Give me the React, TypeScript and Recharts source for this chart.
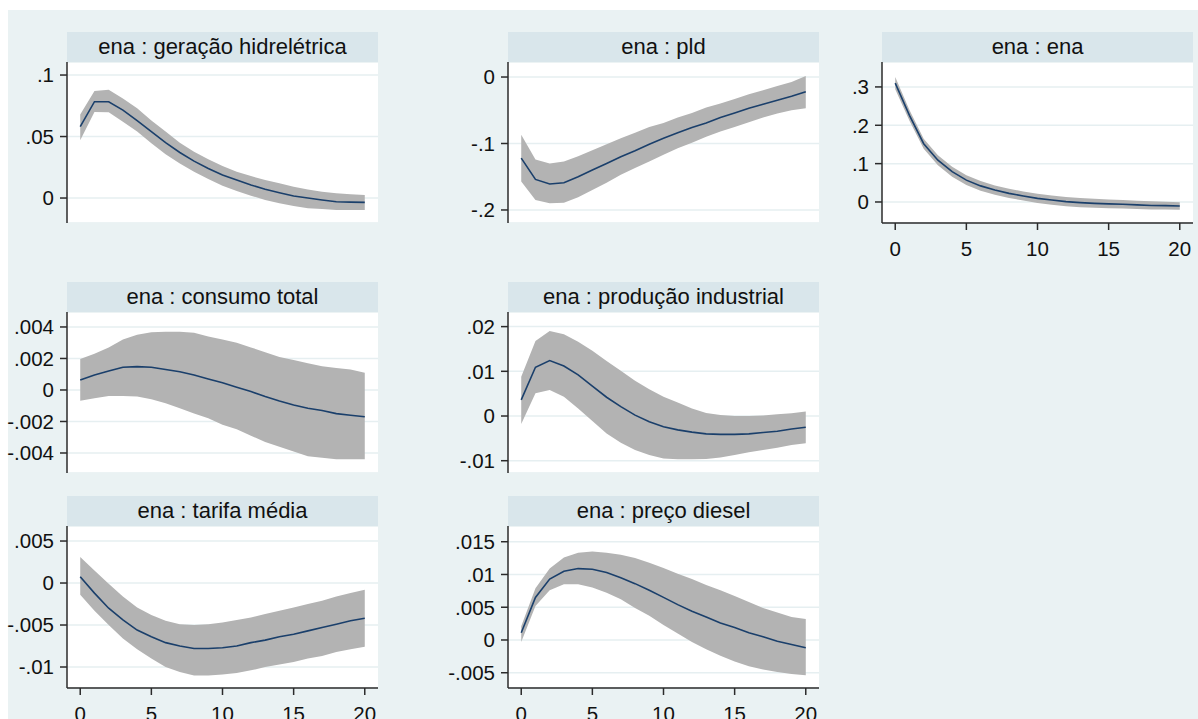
import React from 'react';
import { ComposedChart, Area, Line, XAxis, YAxis, CartesianGrid } from 'recharts';

// ---------- data ----------
const horizons = [0, 1, 2, 3, 4, 5, 6, 7, 8, 9, 10, 11, 12, 13, 14, 15, 16, 17, 18, 19, 20];
const xTicks = [0, 5, 10, 15, 20];

const geracaoIrf = [0.058, 0.0783, 0.0783, 0.0715, 0.063, 0.054, 0.045, 0.037, 0.030, 0.024, 0.0187, 0.0146, 0.0106, 0.0071, 0.0043, 0.0016, 0.0, -0.0016, -0.003, -0.0033, -0.0035];
const geracaoLo = [0.047, 0.070, 0.0697, 0.062, 0.054, 0.0445, 0.0355, 0.028, 0.0214, 0.0155, 0.010, 0.0057, 0.0019, -0.0016, -0.0043, -0.0065, -0.0084, -0.009, -0.0097, -0.0097, -0.0098];
const geracaoHi = [0.068, 0.087, 0.088, 0.081, 0.073, 0.063, 0.054, 0.045, 0.0377, 0.0315, 0.026, 0.0214, 0.0179, 0.0146, 0.012, 0.0092, 0.007, 0.0052, 0.0038, 0.003, 0.0024];

const pldIrf = [-0.122, -0.154, -0.161, -0.159, -0.150, -0.140, -0.130, -0.120, -0.111, -0.101, -0.092, -0.084, -0.076, -0.069, -0.061, -0.054, -0.047, -0.041, -0.035, -0.029, -0.022];
const pldLo = [-0.157, -0.185, -0.190, -0.189, -0.181, -0.170, -0.159, -0.147, -0.137, -0.127, -0.117, -0.107, -0.099, -0.090, -0.082, -0.075, -0.068, -0.061, -0.055, -0.050, -0.047];
const pldHi = [-0.087, -0.124, -0.130, -0.127, -0.119, -0.110, -0.101, -0.092, -0.084, -0.075, -0.069, -0.061, -0.054, -0.046, -0.040, -0.033, -0.026, -0.020, -0.0136, -0.0073, 0.0015];

const enaIrf = [0.310, 0.226, 0.152, 0.109, 0.079, 0.057, 0.042, 0.031, 0.0225, 0.0156, 0.0095, 0.005, 0.0009, -0.0017, -0.0035, -0.005, -0.006, -0.0075, -0.009, -0.0095, -0.0104];
const enaLo = [0.294, 0.212, 0.139, 0.096, 0.066, 0.044, 0.029, 0.019, 0.0105, 0.0036, -0.0025, -0.007, -0.0111, -0.0137, -0.0153, -0.0165, -0.0172, -0.0184, -0.0196, -0.0198, -0.0204];
const enaHi = [0.326, 0.240, 0.165, 0.122, 0.092, 0.070, 0.055, 0.043, 0.0345, 0.0276, 0.0215, 0.017, 0.0129, 0.0103, 0.0083, 0.0065, 0.0052, 0.0034, 0.0016, 0.0008, -0.0004];

const consumoIrf = [0.00063, 0.00095, 0.0012, 0.00144, 0.00148, 0.00144, 0.0013, 0.00116, 0.00095, 0.0007, 0.00046, 0.00017, -0.0001, -0.00042, -0.0007, -0.00095, -0.00116, -0.0013, -0.0015, -0.0016, -0.0017];
const consumoLo = [-0.00068, -0.00053, -0.00038, -0.00038, -0.00042, -0.00059, -0.00085, -0.00116, -0.0015, -0.0018, -0.0022, -0.0025, -0.0029, -0.0033, -0.0036, -0.0039, -0.0042, -0.0043, -0.0044, -0.0044, -0.0044];
const consumoHi = [0.00197, 0.0023, 0.0027, 0.0032, 0.0035, 0.00366, 0.0037, 0.0037, 0.00363, 0.0034, 0.0032, 0.003, 0.0027, 0.0024, 0.0021, 0.0019, 0.0017, 0.0015, 0.0014, 0.0013, 0.0011];

const producaoIrf = [0.0036, 0.0109, 0.0124, 0.0112, 0.0092, 0.0067, 0.0042, 0.0021, 0.0002, -0.0013, -0.0024, -0.0031, -0.0036, -0.004, -0.0041, -0.0041, -0.004, -0.0037, -0.0034, -0.0029, -0.0025];
const producaoLo = [-0.0018, 0.0051, 0.0058, 0.0043, 0.0017, -0.0011, -0.0039, -0.006, -0.0076, -0.0087, -0.0095, -0.0097, -0.0097, -0.0096, -0.0093, -0.0087, -0.0081, -0.0076, -0.0071, -0.0065, -0.0061];
const producaoHi = [0.0088, 0.0168, 0.019, 0.0183, 0.0166, 0.0146, 0.0123, 0.0101, 0.0079, 0.006, 0.0043, 0.003, 0.0017, 0.0007, 0.0002, 0.0, 0.0, 0.0001, 0.0004, 0.0006, 0.001];

const tarifaIrf = [0.00075, -0.0012, -0.003, -0.0044, -0.0056, -0.0064, -0.0071, -0.0075, -0.0078, -0.0078, -0.0077, -0.0075, -0.0071, -0.0068, -0.0064, -0.0061, -0.0057, -0.0053, -0.0049, -0.0045, -0.0042];
const tarifaLo = [-0.0014, -0.0033, -0.005, -0.0066, -0.0079, -0.009, -0.01, -0.0106, -0.011, -0.011, -0.0109, -0.0107, -0.0104, -0.01, -0.0097, -0.0094, -0.009, -0.0087, -0.0082, -0.0079, -0.0076];
const tarifaHi = [0.0031, 0.0015, -0.0001, -0.0016, -0.0029, -0.0038, -0.0045, -0.0049, -0.005, -0.0049, -0.0047, -0.0044, -0.0041, -0.0037, -0.0033, -0.0029, -0.0025, -0.0021, -0.0016, -0.0012, -0.0008];

const dieselIrf = [0.0011, 0.0065, 0.0093, 0.0105, 0.0109, 0.0108, 0.0103, 0.0095, 0.0086, 0.0076, 0.0065, 0.0054, 0.0044, 0.0035, 0.0026, 0.0019, 0.0011, 0.0005, -0.0002, -0.0007, -0.0012];
const dieselLo = [-0.0003, 0.0052, 0.0076, 0.0085, 0.0085, 0.008, 0.0072, 0.0062, 0.0049, 0.0037, 0.0023, 0.001, -0.0003, -0.0014, -0.0024, -0.0033, -0.004, -0.0045, -0.0049, -0.0052, -0.0054];
const dieselHi = [0.0021, 0.0079, 0.0109, 0.0126, 0.0133, 0.0135, 0.0133, 0.013, 0.0125, 0.0118, 0.011, 0.0101, 0.0093, 0.0084, 0.0076, 0.0067, 0.0058, 0.0049, 0.0042, 0.0035, 0.0032];

const titles = [
  'ena : geração hidrelétrica',
  'ena : pld',
  'ena : ena',
  'ena : consumo total',
  'ena : produção industrial',
  'ena : tarifa média',
  'ena : preço diesel',
];

const geracaoTicks = [0, 0.05, 0.1];
const geracaoLabels = ['0', '.05', '.1'];
const pldTicks = [-0.2, -0.1, 0];
const pldLabels = ['-.2', '-.1', '0'];
const enaTicks = [0, 0.1, 0.2, 0.3];
const enaLabels = ['0', '.1', '.2', '.3'];
const consumoTicks = [-0.004, -0.002, 0, 0.002, 0.004];
const consumoLabels = ['-.004', '-.002', '0', '.002', '.004'];
const producaoTicks = [-0.01, 0, 0.01, 0.02];
const producaoLabels = ['-.01', '0', '.01', '.02'];
const tarifaTicks = [-0.01, -0.005, 0, 0.005];
const tarifaLabels = ['-.01', '-.005', '0', '.005'];
const dieselTicks = [-0.005, 0, 0.005, 0.01, 0.015];
const dieselLabels = ['-.005', '0', '.005', '.01', '.015'];

// ---------- build tables ----------
function buildRows(irf: number[], lo: number[], hi: number[]) {
  return horizons.map((h, i) => ({ h, irf: irf[i], band: [lo[i], hi[i]] }));
}

const series = [
  { rows: buildRows(geracaoIrf, geracaoLo, geracaoHi), ticks: geracaoTicks, labels: geracaoLabels, domain: [-0.0203, 0.1106] },
  { rows: buildRows(pldIrf, pldLo, pldHi), ticks: pldTicks, labels: pldLabels, domain: [-0.2196, 0.0226] },
  { rows: buildRows(enaIrf, enaLo, enaHi), ticks: enaTicks, labels: enaLabels, domain: [-0.0548, 0.365] },
  { rows: buildRows(consumoIrf, consumoLo, consumoHi), ticks: consumoTicks, labels: consumoLabels, domain: [-0.00527, 0.00495] },
  { rows: buildRows(producaoIrf, producaoLo, producaoHi), ticks: producaoTicks, labels: producaoLabels, domain: [-0.01275, 0.02327] },
  { rows: buildRows(tarifaIrf, tarifaLo, tarifaHi), ticks: tarifaTicks, labels: tarifaLabels, domain: [-0.0125, 0.00679] },
  { rows: buildRows(dieselIrf, dieselLo, dieselHi), ticks: dieselTicks, labels: dieselLabels, domain: [-0.00733, 0.0174] },
];

// ---------- layout ----------
const colLeft = [67, 508, 882];
const plotW = 311;
const rowTitleTop = [32, 282, 496];
const titleH = 30;
const rowPlotH = [161, 161, 162];
const panelPos = [
  { col: 0, row: 0, xAxis: false },
  { col: 1, row: 0, xAxis: false },
  { col: 2, row: 0, xAxis: true },
  { col: 0, row: 1, xAxis: false },
  { col: 1, row: 1, xAxis: false },
  { col: 0, row: 2, xAxis: true },
  { col: 1, row: 2, xAxis: true },
];

const FONT = '"Liberation Sans", Arial, Helvetica, sans-serif';
const BG = '#eaf2f3';
const STRIP = '#d9e6eb';
const BAND = '#b3b3b3';
const LINE = '#1a3f6b';
const AXIS = '#2b2b2b';
const GRID = '#e6eff1';
const X_AXIS_H = 44;
const TICK_FS = 20.5;

function Panel({ idx }: { idx: number }) {
  const pos = panelPos[idx];
  const s = series[idx];
  const plotLeft = colLeft[pos.col];
  const chartLeft = pos.col === 0 ? 0 : plotLeft - 100;
  const yW = plotLeft - chartLeft;
  const top = rowTitleTop[pos.row];
  const plotH = rowPlotH[pos.row];
  const chartW = yW + plotW + 12;
  const chartH = plotH + (pos.xAxis ? X_AXIS_H : 0);
  const fmt = (v: number) => {
    const k = s.ticks.findIndex((t) => Math.abs(t - v) < 1e-9);
    return k >= 0 ? s.labels[k] : String(v);
  };
  return (
    <>
      <div
        style={{
          position: 'absolute',
          left: plotLeft,
          top,
          width: plotW,
          height: titleH,
          background: STRIP,
          display: 'flex',
          alignItems: 'center',
          justifyContent: 'center',
          fontFamily: FONT,
          fontSize: 22,
          color: '#111',
          lineHeight: 1,
        }}
      >
        {titles[idx]}
      </div>
      <div
        style={{
          position: 'absolute',
          left: plotLeft,
          top: top + titleH,
          width: plotW,
          height: plotH,
          background: '#ffffff',
        }}
      />
      <div style={{ position: 'absolute', left: chartLeft, top: top + titleH }}>
        <ComposedChart
          width={chartW}
          height={chartH}
          data={s.rows}
          margin={{ top: 0, right: 12, bottom: 0, left: 0 }}
        >
          <CartesianGrid vertical={false} stroke={GRID} strokeWidth={1.5} />
          <XAxis
            dataKey="h"
            type="number"
            domain={[-0.93, 20.93]}
            allowDataOverflow
            ticks={xTicks}
            interval={0}
            hide={!pos.xAxis}
            height={pos.xAxis ? X_AXIS_H : 0}
            axisLine={{ stroke: AXIS, strokeWidth: 1.5 }}
            tickLine={{ stroke: AXIS, strokeWidth: 1.5 }}
            tickSize={7}
            tickMargin={11}
            tick={{ fill: '#111', fontSize: TICK_FS, fontFamily: FONT }}
          />
          <YAxis
            type="number"
            domain={s.domain}
            allowDataOverflow
            ticks={s.ticks}
            interval={0}
            width={yW}
            tickFormatter={fmt}
            axisLine={{ stroke: AXIS, strokeWidth: 1.5 }}
            tickLine={{ stroke: AXIS, strokeWidth: 1.5 }}
            tickSize={7}
            tickMargin={6}
            tick={{ fill: '#111', fontSize: TICK_FS, fontFamily: FONT }}
          />
          <Area
            type="linear"
            dataKey="band"
            stroke="none"
            fill={BAND}
            fillOpacity={1}
            isAnimationActive={false}
            dot={false}
            activeDot={false}
          />
          <Line
            type="linear"
            dataKey="irf"
            stroke={LINE}
            strokeWidth={1.6}
            dot={false}
            activeDot={false}
            isAnimationActive={false}
          />
        </ComposedChart>
      </div>
    </>
  );
}

export default function App() {
  return (
    <div style={{ position: 'absolute', left: 0, top: 0, width: 1198, height: 719, background: '#ffffff', overflow: 'hidden' }}>
      <div style={{ position: 'absolute', left: 8, top: 10, width: 1190, height: 709, background: BG }} />
      {panelPos.map((_, i) => (
        <Panel key={i} idx={i} />
      ))}
    </div>
  );
}
